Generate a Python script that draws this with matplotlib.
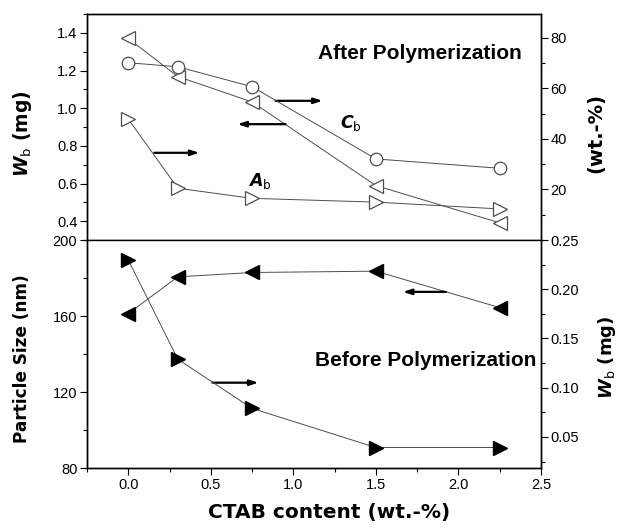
import matplotlib
matplotlib.use("Agg")
import matplotlib.pyplot as plt
from matplotlib.ticker import MultipleLocator

plt.rcParams['font.family'] = ['Liberation Sans', 'DejaVu Sans']
plt.rcParams['mathtext.fontset'] = 'custom'
plt.rcParams['mathtext.rm'] = 'DejaVu Sans'
plt.rcParams['mathtext.it'] = 'DejaVu Sans:italic'
plt.rcParams['mathtext.bf'] = 'DejaVu Sans:bold'
plt.rcParams['mathtext.bfit'] = 'DejaVu Sans:italic:bold'

# data
ctab = [0.0, 0.3, 0.75, 1.5, 2.25]
# after polymerization
wb_after = [1.37, 1.168, 1.033, 0.589, 0.391]        # left axis, mg (open left triangles)
cb_after = [70.2, 68.6, 60.7, 32.1, 28.4]            # right axis, wt.-% (open circles)
ab_after = [47.9, 20.5, 16.5, 15.0, 12.3]            # right axis, wt.-% (open right triangles)
# before polymerization
size_before = [161.3, 180.6, 182.9, 183.6, 164.4]    # left axis, nm (filled left triangles)
wb_before = [0.2297, 0.129, 0.079, 0.0393, 0.0393]   # right axis, mg (filled right triangles)

fig = plt.figure(figsize=(6.22, 5.28), dpi=100)
L, R = 87/622, 541/622
ax1 = fig.add_axes([L, 1-240/528, R-L, (240-14)/528])
ax2 = fig.add_axes([L, 1-468/528, R-L, (468-240)/528], sharex=ax1)
ax1r = ax1.twinx()
ax2r = ax2.twinx()

lc = '0.3'
lw = 0.7
ax1.plot(ctab, wb_after, color=lc, lw=lw, marker='<', ms=10, mfc='white', mec='0.3', mew=0.9)
ax1r.plot(ctab, cb_after, color=lc, lw=lw, marker='o', ms=9, mfc='white', mec='0.3', mew=0.9)
ax1r.plot(ctab, ab_after, color=lc, lw=lw, marker='>', ms=10, mfc='white', mec='0.3', mew=0.9)
ax2.plot(ctab, size_before, color=lc, lw=lw, marker='<', ms=10, mfc='black', mec='black')
ax2r.plot(ctab, wb_before, color=lc, lw=lw, marker='>', ms=10, mfc='black', mec='black')

ax1.set_xlim(-0.25, 2.5)
ax1.set_ylim(0.3, 1.5)
ax1r.set_ylim(0, 89.5)
ax2.set_ylim(80, 200)
ax2r.set_ylim(0.0185, 0.25)

ax1.xaxis.set_major_locator(MultipleLocator(0.5))
ax1.xaxis.set_minor_locator(MultipleLocator(0.25))
ax1.set_yticks([0.4, 0.6, 0.8, 1.0, 1.2, 1.4])
ax1.yaxis.set_minor_locator(MultipleLocator(0.1))
ax1r.set_yticks([20, 40, 60, 80])
ax1r.yaxis.set_minor_locator(MultipleLocator(10))
ax2.set_yticks([80, 120, 160, 200])
ax2.yaxis.set_minor_locator(MultipleLocator(20))
ax2r.set_yticks([0.05, 0.10, 0.15, 0.20, 0.25])
ax2r.yaxis.set_minor_locator(MultipleLocator(0.025))
ax2r.set_yticklabels(['0.05', '0.10', '0.15', '0.20', '0.25'])

for a in (ax1, ax1r, ax2, ax2r):
    a.tick_params(which='major', direction='out', length=5, width=0.8, labelsize=10.5, pad=2)
    a.tick_params(which='minor', direction='out', length=3, width=0.8)
    for s in a.spines.values():
        s.set_linewidth(1.0)
ax1.tick_params(axis='x', which='both', bottom=False, labelbottom=False)
ax2.spines['top'].set_visible(False)
ax2r.spines['top'].set_visible(False)

lab = dict(fontweight='bold', family='DejaVu Sans')
ax1.set_ylabel(r'$\mathbfit{W}_{\mathrm{b}}$ (mg)', fontsize=13.5, **lab)
ax1r.set_ylabel('(wt.-%)', fontsize=14, rotation=90, **lab)
ax2.set_ylabel('Particle Size (nm)', fontsize=12.2, **lab)
ax2r.set_ylabel(r'$\mathbfit{W}_{\mathrm{b}}$ (mg)', fontsize=13, rotation=90, **lab)
ax2.set_xlabel('CTAB content (wt.-%)', fontsize=14.5, **lab)

ax1.yaxis.set_label_coords(-0.143, 0.473)
ax1r.yaxis.set_label_coords(1.121, 0.473)
ax2.yaxis.set_label_coords(-0.143, 0.478)
ax2r.yaxis.set_label_coords(1.145, 0.487)
ax2.xaxis.set_label_coords(0.534, -0.193)
for lbl in (ax1.yaxis.label, ax1r.yaxis.label, ax2.yaxis.label, ax2r.yaxis.label, ax2.xaxis.label):
    lbl.set_va('center')
    lbl.set_ha('center')

ax1.text(1.766, 1.289, 'After Polymerization', fontsize=15, fontweight='bold', ha='center', va='center')
ax2.text(1.80, 136.4, 'Before Polymerization', fontsize=15, fontweight='bold', ha='center', va='center')
ax1.text(1.347, 0.92, r'$\mathbfit{C}_{\mathrm{b}}$', fontsize=12.5, ha='center', va='center')
ax1.text(0.80, 0.615, r'$\mathbfit{A}_{\mathrm{b}}$', fontsize=12.5, ha='center', va='center')

aprops = dict(arrowstyle='-|>,head_length=0.5,head_width=0.16', color='black', lw=1.6, shrinkA=0, shrinkB=0)
ax1.annotate('', xy=(1.177, 1.039), xytext=(0.892, 1.039), arrowprops=aprops)
ax1.annotate('', xy=(0.661, 0.915), xytext=(0.953, 0.915), arrowprops=aprops)
ax1.annotate('', xy=(0.431, 0.763), xytext=(0.158, 0.763), arrowprops=aprops)
ax2.annotate('', xy=(1.663, 172.7), xytext=(1.924, 172.7), arrowprops=aprops)
ax2.annotate('', xy=(0.789, 124.9), xytext=(0.51, 124.9), arrowprops=aprops)

fig.savefig('out.png', dpi=100)
